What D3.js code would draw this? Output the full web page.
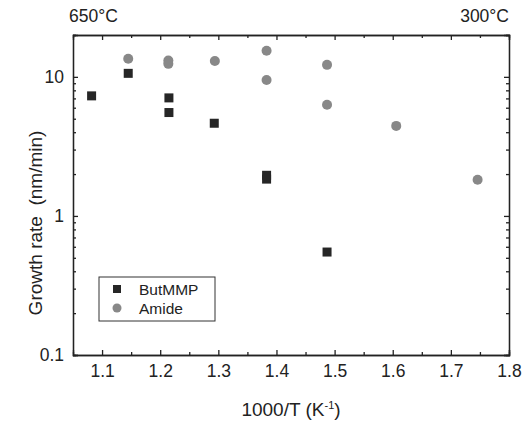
<!doctype html>
<html>
<head>
  <meta charset="UTF-8">
  <title>Growth rate</title>
  <script src="https://d3js.org/d3.v7.min.js"></script>
  <style>
    body { margin: 0; background: #fff; }
    text { font-family: "Liberation Sans", Arial, sans-serif; fill: #222; }
    .axis path, .axis line { stroke: #222; stroke-width: 1.3; }
  </style>
</head>
<body>
  <script>
    // ButMMP data (squares)
    var butX = [1.082, 1.145, 1.215, 1.215, 1.293, 1.383, 1.383, 1.487];
    var butY = [7.3, 10.6, 7.06, 5.54, 4.64, 1.96, 1.84, 0.55];
    // Amide data (circles)
    var amiX = [1.145, 1.214, 1.214, 1.294, 1.383, 1.383, 1.487, 1.487, 1.606, 1.746];
    var amiY = [13.5, 13.1, 12.4, 13.0, 15.4, 9.5, 12.2, 6.3, 4.44, 1.82];

    var xMajor = [1.1, 1.2, 1.3, 1.4, 1.5, 1.6, 1.7, 1.8];
    var xMinor = [1.15, 1.25, 1.35, 1.45, 1.55, 1.65, 1.75];
    var yMajor = [0.1, 1, 10];
    var yMinor = [0.2, 0.3, 0.4, 0.5, 0.6, 0.7, 0.8, 0.9, 2, 3, 4, 5, 6, 7, 8, 9, 20];

    var W = 522, H = 423;
    var m = {l: 73, t: 35, r: 13, b: 68};
    var w = W - m.l - m.r, h = H - m.t - m.b;

    var svg = d3.select("body").append("svg")
      .attr("width", W).attr("height", H);
    var g = svg.append("g").attr("transform", "translate(" + m.l + "," + m.t + ")");

    var x = d3.scaleLinear().domain([1.05, 1.8]).range([0, w]);
    var y = d3.scaleLog().domain([0.1, 20]).range([h, 0]);

    function fmtY(d) { return d < 1 ? "0.1" : String(d); }

    // bottom
    g.append("g").attr("class", "axis").attr("transform", "translate(0," + h + ")")
      .call(d3.axisBottom(x).tickValues(xMajor).tickSize(-5).tickPadding(10).tickFormat(d3.format(".1f")))
      .call(function(s) { s.selectAll("text").style("font-size", "17.5px"); });
    g.append("g").attr("class", "axis").attr("transform", "translate(0," + h + ")")
      .call(d3.axisBottom(x).tickValues(xMinor).tickSize(-3).tickFormat(""));
    // top
    g.append("g").attr("class", "axis")
      .call(d3.axisTop(x).tickValues(xMajor).tickSize(-5).tickFormat(""));
    g.append("g").attr("class", "axis")
      .call(d3.axisTop(x).tickValues(xMinor).tickSize(-3).tickFormat(""));
    // left
    g.append("g").attr("class", "axis")
      .call(d3.axisLeft(y).tickValues(yMajor).tickSize(-5).tickPadding(9).tickFormat(fmtY))
      .call(function(s) { s.selectAll("text").style("font-size", "17.5px"); });
    g.append("g").attr("class", "axis")
      .call(d3.axisLeft(y).tickValues(yMinor).tickSize(-3).tickFormat(""));
    // right
    g.append("g").attr("class", "axis").attr("transform", "translate(" + w + ",0)")
      .call(d3.axisRight(y).tickValues(yMajor).tickSize(-5).tickFormat(""));
    g.append("g").attr("class", "axis").attr("transform", "translate(" + w + ",0)")
      .call(d3.axisRight(y).tickValues(yMinor).tickSize(-3).tickFormat(""));

    g.selectAll(".axis path").attr("stroke-width", 1.5);

    // points
    var amide = d3.zip(amiX, amiY);
    var but = d3.zip(butX, butY);

    g.selectAll("circle.ami").data(amide).enter().append("circle")
      .attr("class", "ami")
      .attr("cx", function(d) { return x(d[0]); })
      .attr("cy", function(d) { return y(d[1]); })
      .attr("r", 5)
      .attr("fill", "#888");

    g.selectAll("rect.but").data(but).enter().append("rect")
      .attr("class", "but")
      .attr("x", function(d) { return x(d[0]) - 4.5; })
      .attr("y", function(d) { return y(d[1]) - 4.5; })
      .attr("width", 9).attr("height", 9)
      .attr("fill", "#262626");

    // legend
    var lg = svg.append("g").attr("transform", "translate(99,277)");
    lg.append("rect").attr("width", 116).attr("height", 44)
      .attr("fill", "none").attr("stroke", "#333").attr("stroke-width", 1);
    lg.append("rect").attr("x", 14).attr("y", 8).attr("width", 8).attr("height", 8).attr("fill", "#262626");
    lg.append("circle").attr("cx", 18).attr("cy", 31).attr("r", 4.5).attr("fill", "#888");
    lg.append("text").attr("x", 40).attr("y", 18).style("font-size", "15.5px").text("ButMMP");
    lg.append("text").attr("x", 40).attr("y", 37).style("font-size", "15.5px").text("Amide");

    // titles
    svg.append("text").attr("x", m.l + w / 2).attr("y", 416)
      .attr("text-anchor", "middle").style("font-size", "19px")
      .html('1000/T (K<tspan dy="-7" font-size="11px">-1</tspan><tspan dy="7">)</tspan>');
    svg.append("text").attr("transform", "translate(42,223) rotate(-90)")
      .attr("text-anchor", "middle").style("font-size", "19px")
      .attr("xml:space", "preserve")
      .text("Growth rate  (nm/min)");
    svg.append("text").attr("x", 69).attr("y", 22).style("font-size", "17.5px").text("650°C");
    svg.append("text").attr("x", 509).attr("y", 22).attr("text-anchor", "end").style("font-size", "17.5px").text("300°C");
  </script>
</body>
</html>
